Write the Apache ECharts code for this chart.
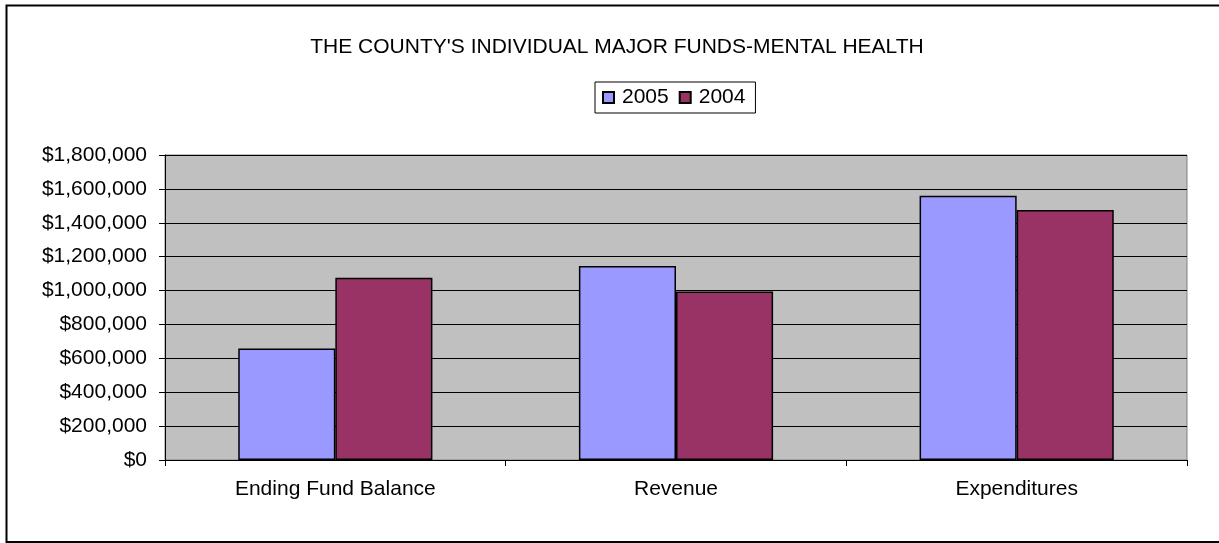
<!DOCTYPE html>
<html>
<head>
<meta charset="utf-8">
<script src="https://cdn.jsdelivr.net/npm/echarts@6/dist/echarts.min.js"></script>
<style>
  html, body { margin: 0; padding: 0; background: #fff; }
  #chart { width: 1219px; height: 543px; }
</style>
</head>
<body>
<div id="chart"></div>
<script>
// data
var categories = ['Ending Fund Balance', 'Revenue', 'Expenditures'];
var values2005 = [658000, 1145000, 1560000];
var values2004 = [1076000, 995000, 1476000];
var seriesNames = ['2005', '2004'];

var myChart = echarts.init(document.getElementById('chart'));

function money(v) {
  return '$' + String(v).replace(/\B(?=(\d{3})+(?!\d))/g, ',');
}

var option = {
  animation: false,
  textStyle: { fontFamily: 'Liberation Sans, Arial, sans-serif' },
  title: {
    text: "THE COUNTY'S INDIVIDUAL MAJOR FUNDS-MENTAL HEALTH",
    left: 612,
    top: 32,
    textAlign: 'center',
    textStyle: { fontSize: 21, fontWeight: 'normal', color: '#000' }
  },
  legend: {
    data: seriesNames,
    left: 595,
    top: 82,
    padding: [5, 10, 5, 7],
    itemGap: 10,
    itemWidth: 11,
    itemHeight: 11,
    borderColor: '#000',
    borderWidth: 1,
    textStyle: { fontSize: 21, color: '#000', padding: [0, 0, 0, 3] },
    icon: 'rect'
  },
  grid: {
    left: 165,
    right: 32,
    top: 155,
    bottom: 83,
    show: true,
    backgroundColor: '#C0C0C0',
    borderColor: '#808080',
    borderWidth: 1
  },
  xAxis: {
    type: 'category',
    data: categories,
    axisLine: { lineStyle: { color: '#000', width: 1 } },
    axisTick: { show: true, length: 6, lineStyle: { color: '#000' } },
    axisLabel: { fontSize: 21, color: '#000', margin: 19 }
  },
  yAxis: {
    type: 'value',
    min: 0,
    max: 1800000,
    interval: 200000,
    axisLine: { show: true, lineStyle: { color: '#000', width: 1 } },
    axisTick: { show: true, length: 6, lineStyle: { color: '#000' } },
    splitLine: { show: true, lineStyle: { color: '#000', width: 1 } },
    axisLabel: { fontSize: 21, color: '#000', margin: 18, formatter: money }
  },
  series: [
    {
      name: seriesNames[0],
      type: 'bar',
      data: values2005,
      barGap: '0%',
      barCategoryGap: '43%',
      itemStyle: { color: '#9999FF', borderColor: '#000', borderWidth: 1.5 }
    },
    {
      name: seriesNames[1],
      type: 'bar',
      data: values2004,
      barGap: '0%',
      barCategoryGap: '43%',
      itemStyle: { color: '#993366', borderColor: '#000', borderWidth: 1.5 }
    }
  ],
  graphic: [
    {
      type: 'rect',
      shape: { x: 6.5, y: 5.5, width: 1240, height: 536.5 },
      style: { fill: 'none', stroke: '#000', lineWidth: 2 },
      silent: true
    }
  ]
};

myChart.setOption(option);
</script>
</body>
</html>
